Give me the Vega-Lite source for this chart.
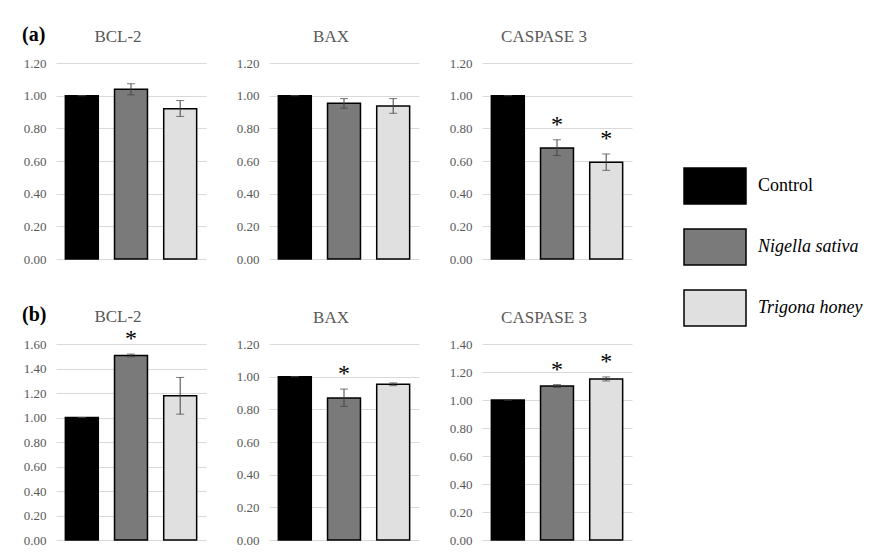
{
  "$schema": "https://vega.github.io/schema/vega-lite/v6.json",
  "padding": {"left": 10, "top": 24, "right": 5, "bottom": 0},
  "background": "white",
  "datasets": {
    "bars": [
      {"row": "a", "gene": "BCL-2", "group": "Control", "value": 1.0, "lo": 1.0, "hi": 1.0, "sig": ""},
      {"row": "a", "gene": "BCL-2", "group": "Nigella sativa", "value": 1.04, "lo": 1.005, "hi": 1.073, "sig": ""},
      {"row": "a", "gene": "BCL-2", "group": "Trigona honey", "value": 0.92, "lo": 0.873, "hi": 0.97, "sig": ""},
      {"row": "a", "gene": "BAX", "group": "Control", "value": 1.0, "lo": 1.0, "hi": 1.0, "sig": ""},
      {"row": "a", "gene": "BAX", "group": "Nigella sativa", "value": 0.953, "lo": 0.923, "hi": 0.982, "sig": ""},
      {"row": "a", "gene": "BAX", "group": "Trigona honey", "value": 0.937, "lo": 0.892, "hi": 0.982, "sig": ""},
      {"row": "a", "gene": "CASPASE 3", "group": "Control", "value": 1.0, "lo": 1.0, "hi": 1.0, "sig": ""},
      {"row": "a", "gene": "CASPASE 3", "group": "Nigella sativa", "value": 0.68, "lo": 0.633, "hi": 0.73, "sig": "*"},
      {"row": "a", "gene": "CASPASE 3", "group": "Trigona honey", "value": 0.592, "lo": 0.543, "hi": 0.643, "sig": "*"},
      {"row": "b", "gene": "BCL-2", "group": "Control", "value": 1.0, "lo": 1.0, "hi": 1.0, "sig": ""},
      {"row": "b", "gene": "BCL-2", "group": "Nigella sativa", "value": 1.507, "lo": 1.495, "hi": 1.518, "sig": "*"},
      {"row": "b", "gene": "BCL-2", "group": "Trigona honey", "value": 1.177, "lo": 1.027, "hi": 1.327, "sig": ""},
      {"row": "b", "gene": "BAX", "group": "Control", "value": 1.0, "lo": 1.0, "hi": 1.0, "sig": ""},
      {"row": "b", "gene": "BAX", "group": "Nigella sativa", "value": 0.869, "lo": 0.818, "hi": 0.924, "sig": "*"},
      {"row": "b", "gene": "BAX", "group": "Trigona honey", "value": 0.953, "lo": 0.945, "hi": 0.962, "sig": ""},
      {"row": "b", "gene": "CASPASE 3", "group": "Control", "value": 1.0, "lo": 1.0, "hi": 1.0, "sig": ""},
      {"row": "b", "gene": "CASPASE 3", "group": "Nigella sativa", "value": 1.1, "lo": 1.09, "hi": 1.11, "sig": "*"},
      {"row": "b", "gene": "CASPASE 3", "group": "Trigona honey", "value": 1.15, "lo": 1.136, "hi": 1.165, "sig": "*"}
    ]
  },
  "spacing": 39,
  "vconcat": [
    {
      "title": {"text": "(a)", "anchor": "start", "frame": "bounds", "offset": -17, "fontWeight": "bold", "color": "black", "fontSize": 20, "dx": 12},
      "hconcat": [
        {
          "width": 150, "height": 196,
          "data": {"name": "bars"},
          "transform": [{"filter": "datum.row === 'a' && datum.gene === 'BCL-2'"}],
          "title": "BCL-2",
          "encoding": {"x": {"field": "group", "type": "nominal", "sort": ["Control", "Nigella sativa", "Trigona honey"], "axis": null, "scale": {"paddingInner": 0.33, "paddingOuter": 0.19}}},
          "layer": [
            {"mark": {"type": "bar", "stroke": "black", "strokeWidth": 1.5}, "encoding": {"y": {"field": "value", "type": "quantitative", "scale": {"domain": [0, 1.2]}, "axis": {"values": [0, 0.2, 0.4, 0.6, 0.8, 1.0, 1.2]}}, "fill": {"field": "group", "type": "nominal", "legend": {"encode": {"labels": {"update": {"fontStyle": {"signal": "datum.label == 'Control' ? 'normal' : 'italic'"}}}}}}}},
            {"mark": {"type": "rule", "color": "#404040", "strokeWidth": 1}, "encoding": {"y": {"field": "lo", "type": "quantitative", "axis": {"values": [0, 0.2, 0.4, 0.6, 0.8, 1.0, 1.2]}}, "y2": {"field": "hi"}}},
            {"mark": {"type": "tick", "color": "#404040", "size": 8, "thickness": 1}, "encoding": {"y": {"field": "lo", "type": "quantitative", "axis": {"values": [0, 0.2, 0.4, 0.6, 0.8, 1.0, 1.2]}}}},
            {"mark": {"type": "tick", "color": "#404040", "size": 8, "thickness": 1}, "encoding": {"y": {"field": "hi", "type": "quantitative", "axis": {"values": [0, 0.2, 0.4, 0.6, 0.8, 1.0, 1.2]}}}},
            {"mark": {"type": "text", "font": "Liberation Serif", "fontSize": 24, "dy": -15, "baseline": "middle", "color": "black"}, "encoding": {"y": {"field": "hi", "type": "quantitative", "axis": {"values": [0, 0.2, 0.4, 0.6, 0.8, 1.0, 1.2]}}, "text": {"field": "sig"}}}
          ]
        },
        {
          "width": 150, "height": 196,
          "data": {"name": "bars"},
          "transform": [{"filter": "datum.row === 'a' && datum.gene === 'BAX'"}],
          "title": "BAX",
          "encoding": {"x": {"field": "group", "type": "nominal", "sort": ["Control", "Nigella sativa", "Trigona honey"], "axis": null, "scale": {"paddingInner": 0.33, "paddingOuter": 0.19}}},
          "layer": [
            {"mark": {"type": "bar", "stroke": "black", "strokeWidth": 1.5}, "encoding": {"y": {"field": "value", "type": "quantitative", "scale": {"domain": [0, 1.2]}, "axis": {"values": [0, 0.2, 0.4, 0.6, 0.8, 1.0, 1.2]}}, "fill": {"field": "group", "type": "nominal", "legend": {"encode": {"labels": {"update": {"fontStyle": {"signal": "datum.label == 'Control' ? 'normal' : 'italic'"}}}}}}}},
            {"mark": {"type": "rule", "color": "#404040", "strokeWidth": 1}, "encoding": {"y": {"field": "lo", "type": "quantitative", "axis": {"values": [0, 0.2, 0.4, 0.6, 0.8, 1.0, 1.2]}}, "y2": {"field": "hi"}}},
            {"mark": {"type": "tick", "color": "#404040", "size": 8, "thickness": 1}, "encoding": {"y": {"field": "lo", "type": "quantitative", "axis": {"values": [0, 0.2, 0.4, 0.6, 0.8, 1.0, 1.2]}}}},
            {"mark": {"type": "tick", "color": "#404040", "size": 8, "thickness": 1}, "encoding": {"y": {"field": "hi", "type": "quantitative", "axis": {"values": [0, 0.2, 0.4, 0.6, 0.8, 1.0, 1.2]}}}},
            {"mark": {"type": "text", "font": "Liberation Serif", "fontSize": 24, "dy": -15, "baseline": "middle", "color": "black"}, "encoding": {"y": {"field": "hi", "type": "quantitative", "axis": {"values": [0, 0.2, 0.4, 0.6, 0.8, 1.0, 1.2]}}, "text": {"field": "sig"}}}
          ]
        },
        {
          "width": 150, "height": 196,
          "data": {"name": "bars"},
          "transform": [{"filter": "datum.row === 'a' && datum.gene === 'CASPASE 3'"}],
          "title": "CASPASE 3",
          "encoding": {"x": {"field": "group", "type": "nominal", "sort": ["Control", "Nigella sativa", "Trigona honey"], "axis": null, "scale": {"paddingInner": 0.33, "paddingOuter": 0.19}}},
          "layer": [
            {"mark": {"type": "bar", "stroke": "black", "strokeWidth": 1.5}, "encoding": {"y": {"field": "value", "type": "quantitative", "scale": {"domain": [0, 1.2]}, "axis": {"values": [0, 0.2, 0.4, 0.6, 0.8, 1.0, 1.2]}}, "fill": {"field": "group", "type": "nominal", "legend": {"encode": {"labels": {"update": {"fontStyle": {"signal": "datum.label == 'Control' ? 'normal' : 'italic'"}}}}}}}},
            {"mark": {"type": "rule", "color": "#404040", "strokeWidth": 1}, "encoding": {"y": {"field": "lo", "type": "quantitative", "axis": {"values": [0, 0.2, 0.4, 0.6, 0.8, 1.0, 1.2]}}, "y2": {"field": "hi"}}},
            {"mark": {"type": "tick", "color": "#404040", "size": 8, "thickness": 1}, "encoding": {"y": {"field": "lo", "type": "quantitative", "axis": {"values": [0, 0.2, 0.4, 0.6, 0.8, 1.0, 1.2]}}}},
            {"mark": {"type": "tick", "color": "#404040", "size": 8, "thickness": 1}, "encoding": {"y": {"field": "hi", "type": "quantitative", "axis": {"values": [0, 0.2, 0.4, 0.6, 0.8, 1.0, 1.2]}}}},
            {"mark": {"type": "text", "font": "Liberation Serif", "fontSize": 24, "dy": -15, "baseline": "middle", "color": "black"}, "encoding": {"y": {"field": "hi", "type": "quantitative", "axis": {"values": [0, 0.2, 0.4, 0.6, 0.8, 1.0, 1.2]}}, "text": {"field": "sig"}}}
          ]
        }
      ]
    },
    {
      "title": {"text": "(b)", "anchor": "start", "frame": "bounds", "offset": -17, "fontWeight": "bold", "color": "black", "fontSize": 20, "dx": 12},
      "hconcat": [
        {
          "width": 150, "height": 196,
          "data": {"name": "bars"},
          "transform": [{"filter": "datum.row === 'b' && datum.gene === 'BCL-2'"}],
          "title": {"text": "BCL-2", "offset": 1},
          "encoding": {"x": {"field": "group", "type": "nominal", "sort": ["Control", "Nigella sativa", "Trigona honey"], "axis": null, "scale": {"paddingInner": 0.33, "paddingOuter": 0.19}}},
          "layer": [
            {"mark": {"type": "bar", "stroke": "black", "strokeWidth": 1.5}, "encoding": {"y": {"field": "value", "type": "quantitative", "scale": {"domain": [0, 1.6]}, "axis": {"values": [0, 0.2, 0.4, 0.6, 0.8, 1.0, 1.2, 1.4, 1.6]}}, "fill": {"field": "group", "type": "nominal", "legend": {"encode": {"labels": {"update": {"fontStyle": {"signal": "datum.label == 'Control' ? 'normal' : 'italic'"}}}}}}}},
            {"mark": {"type": "rule", "color": "#404040", "strokeWidth": 1}, "encoding": {"y": {"field": "lo", "type": "quantitative", "axis": {"values": [0, 0.2, 0.4, 0.6, 0.8, 1.0, 1.2, 1.4, 1.6]}}, "y2": {"field": "hi"}}},
            {"mark": {"type": "tick", "color": "#404040", "size": 8, "thickness": 1}, "encoding": {"y": {"field": "lo", "type": "quantitative", "axis": {"values": [0, 0.2, 0.4, 0.6, 0.8, 1.0, 1.2, 1.4, 1.6]}}}},
            {"mark": {"type": "tick", "color": "#404040", "size": 8, "thickness": 1}, "encoding": {"y": {"field": "hi", "type": "quantitative", "axis": {"values": [0, 0.2, 0.4, 0.6, 0.8, 1.0, 1.2, 1.4, 1.6]}}}},
            {"mark": {"type": "text", "font": "Liberation Serif", "fontSize": 24, "dy": -15, "baseline": "middle", "color": "black"}, "encoding": {"y": {"field": "hi", "type": "quantitative", "axis": {"values": [0, 0.2, 0.4, 0.6, 0.8, 1.0, 1.2, 1.4, 1.6]}}, "text": {"field": "sig"}}}
          ]
        },
        {
          "width": 150, "height": 196,
          "data": {"name": "bars"},
          "transform": [{"filter": "datum.row === 'b' && datum.gene === 'BAX'"}],
          "title": "BAX",
          "encoding": {"x": {"field": "group", "type": "nominal", "sort": ["Control", "Nigella sativa", "Trigona honey"], "axis": null, "scale": {"paddingInner": 0.33, "paddingOuter": 0.19}}},
          "layer": [
            {"mark": {"type": "bar", "stroke": "black", "strokeWidth": 1.5}, "encoding": {"y": {"field": "value", "type": "quantitative", "scale": {"domain": [0, 1.2]}, "axis": {"values": [0, 0.2, 0.4, 0.6, 0.8, 1.0, 1.2]}}, "fill": {"field": "group", "type": "nominal", "legend": {"encode": {"labels": {"update": {"fontStyle": {"signal": "datum.label == 'Control' ? 'normal' : 'italic'"}}}}}}}},
            {"mark": {"type": "rule", "color": "#404040", "strokeWidth": 1}, "encoding": {"y": {"field": "lo", "type": "quantitative", "axis": {"values": [0, 0.2, 0.4, 0.6, 0.8, 1.0, 1.2]}}, "y2": {"field": "hi"}}},
            {"mark": {"type": "tick", "color": "#404040", "size": 8, "thickness": 1}, "encoding": {"y": {"field": "lo", "type": "quantitative", "axis": {"values": [0, 0.2, 0.4, 0.6, 0.8, 1.0, 1.2]}}}},
            {"mark": {"type": "tick", "color": "#404040", "size": 8, "thickness": 1}, "encoding": {"y": {"field": "hi", "type": "quantitative", "axis": {"values": [0, 0.2, 0.4, 0.6, 0.8, 1.0, 1.2]}}}},
            {"mark": {"type": "text", "font": "Liberation Serif", "fontSize": 24, "dy": -15, "baseline": "middle", "color": "black"}, "encoding": {"y": {"field": "hi", "type": "quantitative", "axis": {"values": [0, 0.2, 0.4, 0.6, 0.8, 1.0, 1.2]}}, "text": {"field": "sig"}}}
          ]
        },
        {
          "width": 150, "height": 196,
          "data": {"name": "bars"},
          "transform": [{"filter": "datum.row === 'b' && datum.gene === 'CASPASE 3'"}],
          "title": "CASPASE 3",
          "encoding": {"x": {"field": "group", "type": "nominal", "sort": ["Control", "Nigella sativa", "Trigona honey"], "axis": null, "scale": {"paddingInner": 0.33, "paddingOuter": 0.19}}},
          "layer": [
            {"mark": {"type": "bar", "stroke": "black", "strokeWidth": 1.5}, "encoding": {"y": {"field": "value", "type": "quantitative", "scale": {"domain": [0, 1.4]}, "axis": {"values": [0, 0.2, 0.4, 0.6, 0.8, 1.0, 1.2, 1.4]}}, "fill": {"field": "group", "type": "nominal", "legend": {"encode": {"labels": {"update": {"fontStyle": {"signal": "datum.label == 'Control' ? 'normal' : 'italic'"}}}}}}}},
            {"mark": {"type": "rule", "color": "#404040", "strokeWidth": 1}, "encoding": {"y": {"field": "lo", "type": "quantitative", "axis": {"values": [0, 0.2, 0.4, 0.6, 0.8, 1.0, 1.2, 1.4]}}, "y2": {"field": "hi"}}},
            {"mark": {"type": "tick", "color": "#404040", "size": 8, "thickness": 1}, "encoding": {"y": {"field": "lo", "type": "quantitative", "axis": {"values": [0, 0.2, 0.4, 0.6, 0.8, 1.0, 1.2, 1.4]}}}},
            {"mark": {"type": "tick", "color": "#404040", "size": 8, "thickness": 1}, "encoding": {"y": {"field": "hi", "type": "quantitative", "axis": {"values": [0, 0.2, 0.4, 0.6, 0.8, 1.0, 1.2, 1.4]}}}},
            {"mark": {"type": "text", "font": "Liberation Serif", "fontSize": 24, "dy": -15, "baseline": "middle", "color": "black"}, "encoding": {"y": {"field": "hi", "type": "quantitative", "axis": {"values": [0, 0.2, 0.4, 0.6, 0.8, 1.0, 1.2, 1.4]}}, "text": {"field": "sig"}}}
          ]
        }
      ]
    }
  ],
  "resolve": {"scale": {"fill": "shared"}},
  "config": {
    "view": {"stroke": null},
    "concat": {"spacing": 17},
    "font": "Liberation Serif",
    "title": {"font": "Liberation Serif", "fontSize": 17, "fontWeight": "normal", "color": "#595959", "offset": 11, "dx": -13, "frame": "group"},
    "axisY": {"grid": true, "gridColor": "#d9d9d9", "gridWidth": 1, "domain": false, "ticks": false, "labelPadding": 10, "labelOverlap": false, "format": ".2f", "labelFont": "Liberation Serif", "labelFontSize": 13, "labelColor": "#595959", "title": null, "minExtent": 46, "maxExtent": 46},
    "range": {"category": ["#000000", "#7a7a7a", "#e0e0e0"]},
    "legend": {
      "orient": "none", "legendX": 627, "legendY": 91, "title": null,
      "symbolType": "M-1,-0.58H1V0.58H-1Z", "symbolSize": 3844, "symbolStrokeColor": "black", "symbolStrokeWidth": 1.5,
      "labelFont": "Liberation Serif", "labelFontSize": 18, "labelColor": "black", "labelOffset": 11, "rowPadding": 8
    }
  }
}
